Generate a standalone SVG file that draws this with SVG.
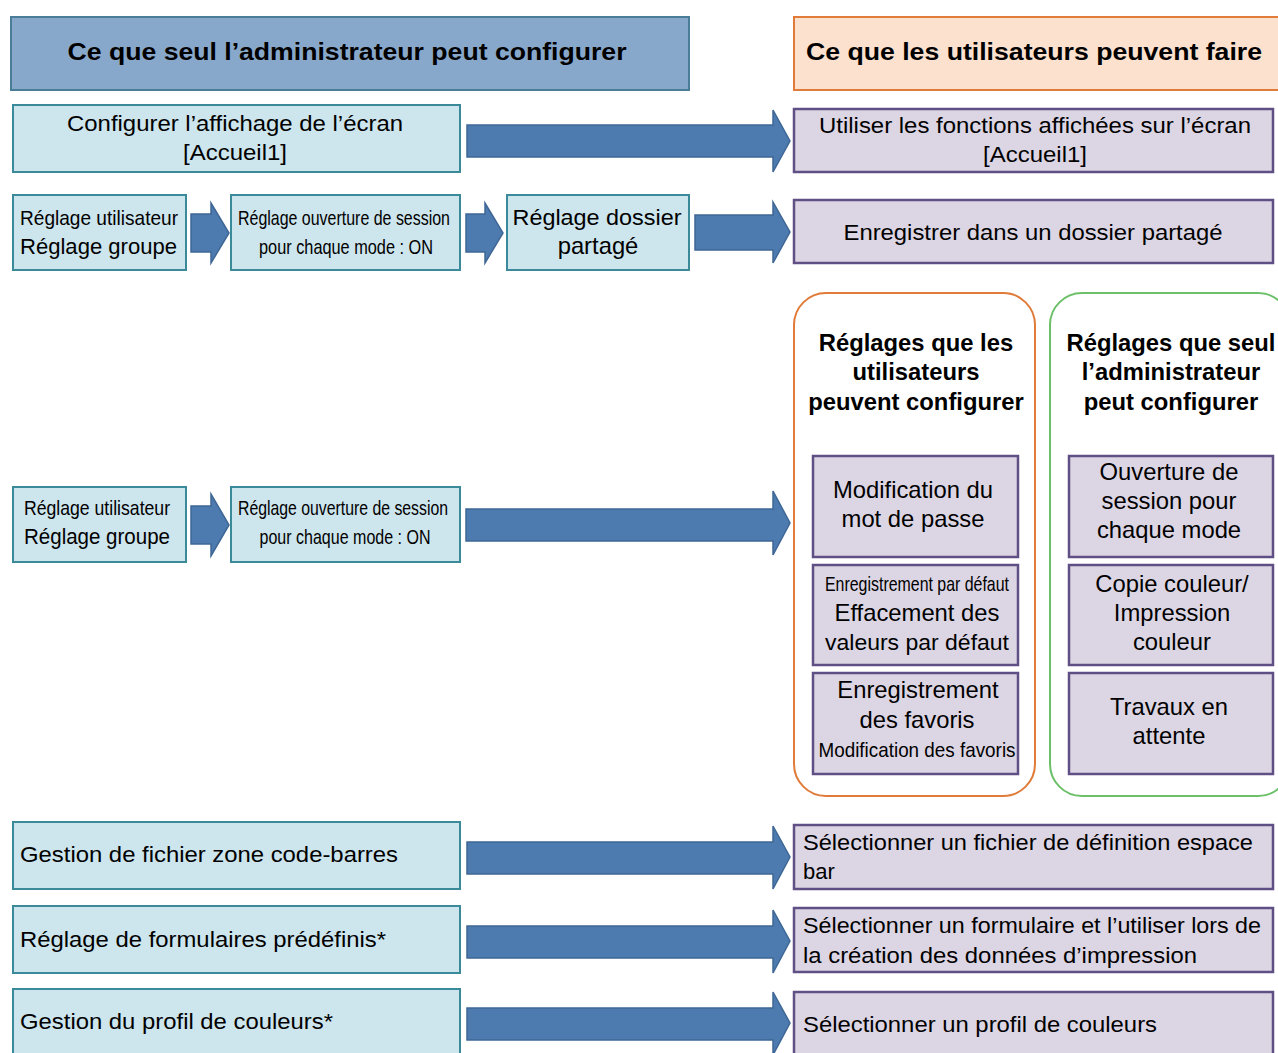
<svg xmlns="http://www.w3.org/2000/svg" width="1278" height="1053" viewBox="0 0 1278 1053">
<style>
text{font-family:"Liberation Sans",Arial,sans-serif;font-size:22px;fill:#000}
.b{font-weight:bold;font-size:24px}
.bt{font-weight:bold;font-size:23.8px}
.c{text-anchor:middle}
.n{font-size:21px}
.l{font-size:23.8px}
.adm{fill:#cde5ed;stroke:#3b8a99;stroke-width:2}
.usr{fill:#dcd6e4;stroke:#604f84;stroke-width:2.5}
.arr{fill:#4d7aaf;stroke:#3e6795;stroke-width:1.5}
</style>
<rect width="1278" height="1053" fill="#fff"/>
<g id="hdr-admin"><rect x="11" y="17" width="678" height="73" fill="#88a8cb" stroke="#4a7e98" stroke-width="2"/>
<text class="b c" x="347" y="60" textLength="559" lengthAdjust="spacingAndGlyphs">Ce que seul l’administrateur peut configurer</text></g>
<g id="hdr-users"><rect x="794" y="17" width="490" height="73" fill="#fbe1ce" stroke="#e07b39" stroke-width="2"/>
<text class="b" x="806" y="60" textLength="456" lengthAdjust="spacingAndGlyphs">Ce que les utilisateurs peuvent faire</text></g>

<g id="n-accueil-admin"><rect class="adm" x="13" y="105" width="447" height="67"/>
<text class="c" x="235" y="131" textLength="336" lengthAdjust="spacingAndGlyphs">Configurer l’affichage de l’écran</text>
<text class="c" x="235" y="160" textLength="104" lengthAdjust="spacingAndGlyphs">[Accueil1]</text></g>
<g id="n-accueil-user"><rect class="usr" x="794" y="109" width="479" height="63"/>
<text class="c" x="1035" y="133" textLength="432" lengthAdjust="spacingAndGlyphs">Utiliser les fonctions affichées sur l’écran</text>
<text class="c" x="1035" y="162" textLength="104" lengthAdjust="spacingAndGlyphs">[Accueil1]</text></g>

<g id="n-r2a"><rect class="adm" x="13" y="195" width="173" height="75"/>
<text x="20" y="225" class="n" textLength="158" lengthAdjust="spacingAndGlyphs">Réglage utilisateur</text>
<text x="20" y="254" textLength="157" lengthAdjust="spacingAndGlyphs">Réglage groupe</text></g>
<g id="n-r2b"><rect class="adm" x="231" y="195" width="229" height="75"/>
<text class="c n" x="344" y="225" textLength="212" lengthAdjust="spacingAndGlyphs">Réglage ouverture de session</text>
<text class="c n" x="346" y="254" textLength="174" lengthAdjust="spacingAndGlyphs">pour chaque mode : ON</text></g>
<g id="n-r2c"><rect class="adm" x="507" y="195" width="182" height="75"/>
<text class="c" x="597" y="225" textLength="169" lengthAdjust="spacingAndGlyphs">Réglage dossier</text>
<text class="c l" x="598" y="254">partagé</text></g>
<g id="n-r2-user"><rect class="usr" x="794" y="200" width="479" height="63"/>
<text class="c" x="1033" y="240" textLength="379" lengthAdjust="spacingAndGlyphs">Enregistrer dans un dossier partagé</text></g>

<g id="n-r3a"><rect class="adm" x="13" y="487" width="173" height="75"/>
<text x="24" y="515" class="n" textLength="146" lengthAdjust="spacingAndGlyphs">Réglage utilisateur</text>
<text x="24" y="544" textLength="146" lengthAdjust="spacingAndGlyphs">Réglage groupe</text></g>
<g id="n-r3b"><rect class="adm" x="231" y="487" width="229" height="75"/>
<text class="c n" x="343" y="515" textLength="210" lengthAdjust="spacingAndGlyphs">Réglage ouverture de session</text>
<text class="c n" x="345" y="544" textLength="171" lengthAdjust="spacingAndGlyphs">pour chaque mode : ON</text></g>

<g id="grp-users"><rect x="794" y="293" width="241" height="503" rx="32" fill="none" stroke="#e07b39" stroke-width="2"/>
<text class="bt c" x="916" y="351">Réglages que les</text>
<text class="bt c" x="916" y="380">utilisateurs</text>
<text class="bt c" x="916" y="410">peuvent configurer</text></g>
<g id="grp-admin"><rect x="1050" y="293" width="240" height="503" rx="32" fill="none" stroke="#6cc06a" stroke-width="2"/>
<text class="bt c" x="1171" y="351">Réglages que seul</text>
<text class="bt c" x="1171" y="380">l’administrateur</text>
<text class="bt c" x="1171" y="410">peut configurer</text></g>

<g id="n-mdp"><rect class="usr" x="813" y="456" width="205" height="101"/>
<text class="c l" x="913" y="498">Modification du</text>
<text class="c l" x="913" y="527">mot de passe</text></g>
<g id="n-defaut"><rect class="usr" x="813" y="565" width="205" height="100"/>
<text class="c n" x="917" y="591" textLength="184" lengthAdjust="spacingAndGlyphs">Enregistrement par défaut</text>
<text class="c l" x="917" y="621">Effacement des</text>
<text class="c" x="917" y="650" textLength="184" lengthAdjust="spacingAndGlyphs">valeurs par défaut</text></g>
<g id="n-favoris"><rect class="usr" x="813" y="673" width="205" height="101"/>
<text class="c l" x="918" y="698">Enregistrement</text>
<text class="c l" x="917" y="728">des favoris</text>
<text class="c n" x="917" y="757" textLength="197" lengthAdjust="spacingAndGlyphs">Modification des favoris</text></g>

<g id="n-session"><rect class="usr" x="1069" y="456" width="204" height="101"/>
<text class="c l" x="1169" y="480">Ouverture de</text>
<text class="c l" x="1169" y="509">session pour</text>
<text class="c l" x="1169" y="538">chaque mode</text></g>
<g id="n-couleur"><rect class="usr" x="1069" y="565" width="204" height="100"/>
<text class="c l" x="1172" y="592">Copie couleur/</text>
<text class="c l" x="1172" y="621">Impression</text>
<text class="c l" x="1172" y="650">couleur</text></g>
<g id="n-attente"><rect class="usr" x="1069" y="673" width="204" height="101"/>
<text class="c l" x="1169" y="715">Travaux en</text>
<text class="c l" x="1169" y="744">attente</text></g>

<g id="n-r4-admin"><rect class="adm" x="13" y="822" width="447" height="67"/>
<text x="20" y="862" textLength="378" lengthAdjust="spacingAndGlyphs">Gestion de fichier zone code-barres</text></g>
<g id="n-r4-user"><rect class="usr" x="794" y="825" width="479" height="64"/>
<text x="803" y="850" textLength="450" lengthAdjust="spacingAndGlyphs">Sélectionner un fichier de définition espace</text>
<text x="803" y="879">bar</text></g>
<g id="n-r5-admin"><rect class="adm" x="13" y="906" width="447" height="67"/>
<text x="20" y="947" textLength="366" lengthAdjust="spacingAndGlyphs">Réglage de formulaires prédéfinis*</text></g>
<g id="n-r5-user"><rect class="usr" x="794" y="908" width="479" height="64"/>
<text x="803" y="933" textLength="458" lengthAdjust="spacingAndGlyphs">Sélectionner un formulaire et l’utiliser lors de</text>
<text x="803" y="963" textLength="394" lengthAdjust="spacingAndGlyphs">la création des données d’impression</text></g>
<g id="n-r6-admin"><rect class="adm" x="13" y="989" width="447" height="70"/>
<text x="20" y="1029" textLength="313" lengthAdjust="spacingAndGlyphs">Gestion du profil de couleurs*</text></g>
<g id="n-r6-user"><rect class="usr" x="794" y="992" width="479" height="70"/>
<text x="803" y="1032" textLength="354" lengthAdjust="spacingAndGlyphs">Sélectionner un profil de couleurs</text></g>

<g id="connectors">
<polygon class="arr" points="467,125 773,125 773,110 790,141 773,172 773,157 467,157"/>
<polygon class="arr" points="191,214 211,214 211,203 229,233 211,263 211,252 191,252"/>
<polygon class="arr" points="466,214 485,214 485,203 503,233 485,263 485,252 466,252"/>
<polygon class="arr" points="695,215 773,215 773,202 790,232 773,263 773,250 695,250"/>
<polygon class="arr" points="191,506 211,506 211,494 229,525 211,556 211,544 191,544"/>
<polygon class="arr" points="466,509 773,509 773,491 790,523 773,555 773,541 466,541"/>
<polygon class="arr" points="467,842 773,842 773,826 790,857 773,889 773,874 467,874"/>
<polygon class="arr" points="467,926 773,926 773,910 790,941 773,973 773,958 467,958"/>
<polygon class="arr" points="467,1008 773,1008 773,992 790,1023 773,1055 773,1040 467,1040"/>
</g>
</svg>
